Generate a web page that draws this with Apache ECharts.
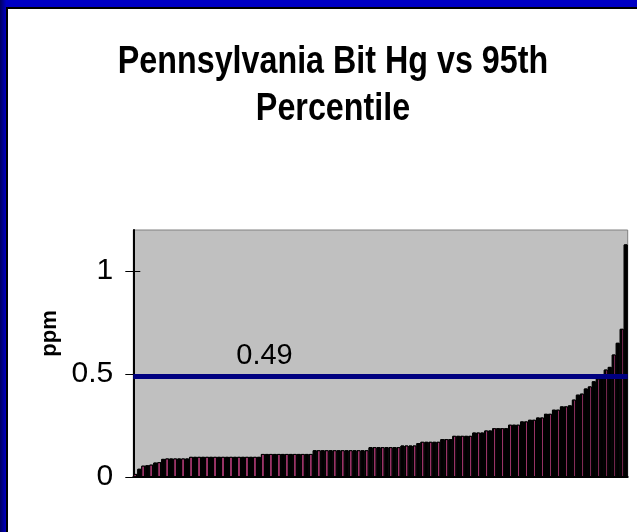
<!DOCTYPE html>
<html><head><meta charset="utf-8">
<script src="https://cdn.jsdelivr.net/npm/echarts@6/dist/echarts.min.js"></script>
<style>
html,body{margin:0;padding:0;background:#fff;}
#chart{position:absolute;left:0;top:0;width:637px;height:532px;}
#ftop{position:absolute;left:0;top:0;width:637px;height:7px;background:#0000c4;z-index:5;}
#ftopline{position:absolute;left:6px;top:7px;width:631px;height:2px;background:#000;z-index:5;}
#fleft{position:absolute;left:0;top:0;width:6px;height:532px;background:linear-gradient(to right,#000060,#0000c0);z-index:6;}
#fleftline{position:absolute;left:6px;top:7px;width:2px;height:525px;background:#000;z-index:5;}
</style></head>
<body>
<div id="chart"></div>
<div id="ftop"></div><div id="ftopline"></div><div id="fleft"></div><div id="fleftline"></div>
<script>
// Sorted Hg concentrations (ppm), one bar per sample
const hgValues = [
  0.015, 0.04, 0.055, 0.057, 0.06, 0.07, 0.072, 0.088,
  0.09, 0.09, 0.09, 0.09, 0.09, 0.09,
  0.098, 0.098, 0.098, 0.098, 0.098, 0.098, 0.098, 0.098, 0.098,
  0.098, 0.098, 0.098, 0.098, 0.098, 0.098, 0.098, 0.098, 0.098,
  0.112, 0.112, 0.112, 0.112, 0.112, 0.112, 0.112, 0.112, 0.112, 0.112, 0.112, 0.112, 0.112,
  0.13, 0.13, 0.13, 0.13, 0.13, 0.13, 0.13, 0.13, 0.13, 0.13, 0.13, 0.13, 0.13, 0.13,
  0.145, 0.145, 0.145, 0.145, 0.145, 0.145, 0.145, 0.145,
  0.153, 0.153, 0.153, 0.153,
  0.165,
  0.171, 0.171, 0.171, 0.171, 0.171,
  0.184, 0.184, 0.184,
  0.2, 0.2, 0.2, 0.2, 0.2,
  0.216, 0.216, 0.216,
  0.226, 0.226,
  0.237, 0.237, 0.237, 0.237,
  0.254, 0.254, 0.254,
  0.27, 0.27,
  0.278, 0.278,
  0.289, 0.289,
  0.307, 0.307,
  0.327, 0.327,
  0.343, 0.343,
  0.348, 0.376, 0.4, 0.405, 0.43, 0.44, 0.465, 0.478, 0.481,
  0.522, 0.535, 0.595, 0.652, 0.72, 1.13
];
const sampleRanks = hgValues.map((v, i) => String(i + 1));
const percentile95 = 0.49;
const yTickValues = [0, 0.5, 1];
const titleText = 'Pennsylvania Bit Hg vs 95th\nPercentile';
const yAxisName = 'ppm';

const FONT = "'Liberation Sans Narrow', 'Arial Narrow', 'Liberation Sans', Arial, sans-serif";

const chart = echarts.init(document.getElementById('chart'), null, { renderer: 'canvas' });
chart.setOption({
  animation: false,
  backgroundColor: 'transparent',
  graphic: [{
    type: 'text',
    x: 333,
    y: 39,
    scaleX: 0.8275,
    silent: true,
    style: {
      text: titleText,
      align: 'center',
      verticalAlign: 'top',
      fontFamily: FONT,
      fontSize: 39,
      fontWeight: 'bold',
      lineHeight: 47,
      fill: '#000'
    }
  }],
  grid: {
    left: 133.3, right: 9.3, top: 230, bottom: 55,
    show: true, backgroundColor: '#c0c0c0', borderColor: '#808080', borderWidth: 1
  },
  xAxis: {
    type: 'category',
    data: sampleRanks,
    axisLine: { show: true, lineStyle: { color: '#000', width: 2 } },
    axisTick: { show: false },
    axisLabel: { show: false },
    splitLine: { show: false }
  },
  yAxis: [{
    type: 'value',
    min: 0, max: 1.2,
    position: 'left',
    name: yAxisName,
    nameLocation: 'middle',
    nameGap: 67,
    nameTextStyle: { fontFamily: FONT, fontSize: 22, fontWeight: 'bold', color: '#000', padding: [0, 0, 0, 40] },
    axisLine: { show: true, lineStyle: { color: '#000', width: 2 } },
    axisTick: { show: true, inside: false, length: 8, customValues: yTickValues, lineStyle: { color: '#000', width: 1 } },
    axisLabel: { show: true, customValues: yTickValues, margin: 20, fontFamily: FONT, fontSize: 30, color: '#000' },
    splitLine: { show: false }
  }, {
    type: 'value',
    min: 0, max: 1.2,
    position: 'left',
    axisLine: { show: false },
    axisTick: { show: true, inside: true, length: 7, customValues: yTickValues, lineStyle: { color: '#000', width: 1 } },
    axisLabel: { show: false },
    splitLine: { show: false }
  }],
  series: [{
    type: 'bar',
    data: hgValues,
    barCategoryGap: 0,
    itemStyle: {
      color: '#000',
      borderColor: '#000',
      borderWidth: 1,
      decal: {
        symbol: 'rect',
        symbolSize: 1,
        color: '#993366',
        dashArrayX: [0, 6, 2, 0],
        dashArrayY: [4, 0],
        rotation: 0
      }
    },
    markLine: {
      silent: true,
      symbol: 'none',
      lineStyle: { color: '#000080', width: 5, type: 'solid' },
      label: {
        show: true,
        position: 'insideStartTop',
        distance: [103, 6],
        formatter: '{c}',
        fontFamily: FONT, fontSize: 29, color: '#000'
      },
      data: [{ yAxis: percentile95 }]
    }
  }]
});
</script>
</body></html>
